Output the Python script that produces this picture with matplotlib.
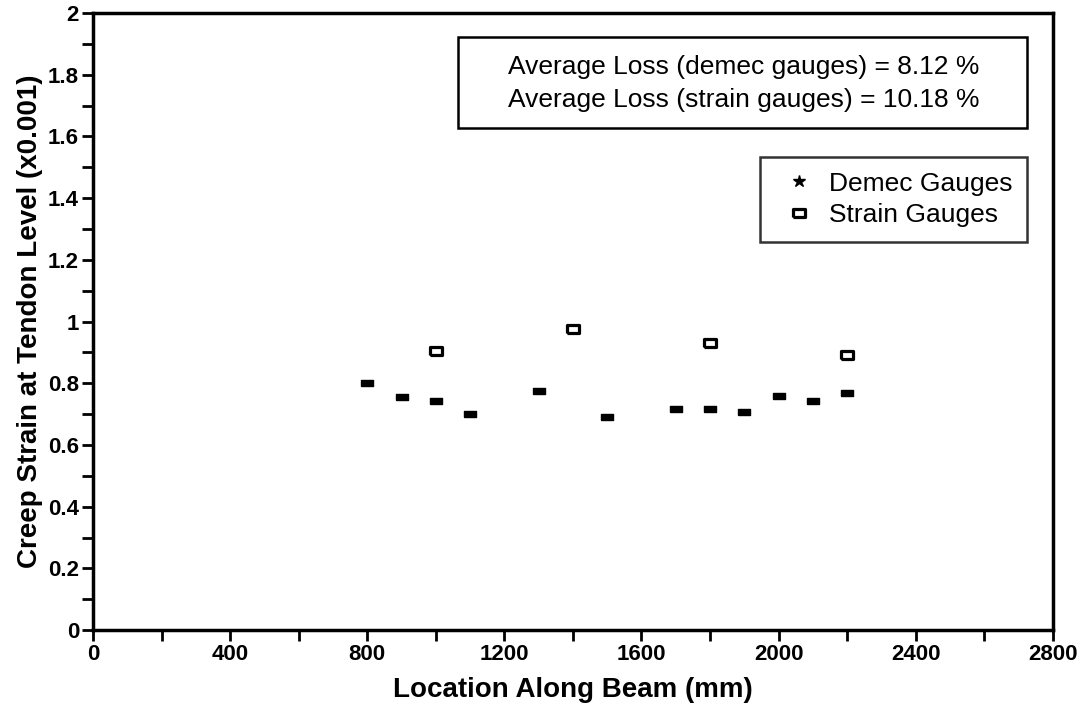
import matplotlib
matplotlib.use("Agg")
import matplotlib.pyplot as plt
from matplotlib.lines import Line2D
from matplotlib.patches import Rectangle
from matplotlib.ticker import MultipleLocator

plt.rcParams['font.family'] = ['Liberation Sans', 'DejaVu Sans']

# data
demec_x = [800, 900, 1000, 1100, 1300, 1500, 1700, 1800, 1900, 2000, 2100, 2200]
demec_y = [0.80, 0.757, 0.742, 0.70, 0.775, 0.69, 0.715, 0.715, 0.707, 0.758, 0.742, 0.768]
strain_x = [1000, 1400, 1800, 2200]
strain_y = [0.905, 0.977, 0.932, 0.89]

avg_demec = 8.12
avg_strain = 10.18

fig = plt.figure(figsize=(10.81, 7.04), dpi=100)
ax = fig.add_axes([0.086, 0.105, 0.888, 0.8765])

rect = [(-1, -0.6), (1, -0.6), (1, 0.6), (-1, 0.6), (-1, -0.6)]
ax.plot(demec_x, demec_y, linestyle='none', marker=rect, markersize=8,
        color='black')
ax.plot(strain_x, strain_y, linestyle='none', marker=rect, markersize=9,
        markerfacecolor='white', markeredgecolor='black', markeredgewidth=2.3)

ax.set_xlim(0, 2800)
ax.set_ylim(0, 2)
ax.xaxis.set_major_locator(MultipleLocator(400))
ax.xaxis.set_minor_locator(MultipleLocator(200))
ax.yaxis.set_minor_locator(MultipleLocator(0.1))
ax.set_yticks([0, 0.2, 0.4, 0.6, 0.8, 1, 1.2, 1.4, 1.6, 1.8, 2])
ax.set_yticklabels(['0', '0.2', '0.4', '0.6', '0.8', '1', '1.2', '1.4', '1.6', '1.8', '2'])

ax.tick_params(which='both', direction='out', length=8, width=2, top=False, right=False)
ax.tick_params(which='major', labelsize=16, pad=2)
for lab in ax.get_xticklabels() + ax.get_yticklabels():
    lab.set_fontweight('bold')
for s in ax.spines.values():
    s.set_linewidth(2.5)

ax.set_xlabel('Location Along Beam (mm)', fontsize=20, fontweight='bold', labelpad=9)
ax.set_ylabel('Creep Strain at Tendon Level (x0.001)', fontsize=20, fontweight='bold', labelpad=4)

# annotation box with the average losses
ax.add_patch(Rectangle((0.380, 0.8136), 0.593, 0.1475, transform=ax.transAxes,
                       facecolor='white', edgecolor='black', linewidth=1.8, zorder=3))
ax.text(0.678, 0.9130, f'Average Loss (demec gauges) = {avg_demec:.2f} %',
        transform=ax.transAxes, ha='center', va='center', fontsize=19, zorder=4)
ax.text(0.678, 0.859, f'Average Loss (strain gauges) = {avg_strain:.2f} %',
        transform=ax.transAxes, ha='center', va='center', fontsize=19, zorder=4)

handles = [
    Line2D([], [], linestyle='none', marker='*', markersize=9, color='black'),
    Line2D([], [], linestyle='none', marker=rect, markersize=9,
           markerfacecolor='white', markeredgecolor='black', markeredgewidth=2.3),
]
leg = ax.legend(handles, ['Demec Gauges', 'Strain Gauges'], loc='upper right',
                bbox_to_anchor=(0.973, 0.7666), fontsize=19, frameon=True, fancybox=False,
                handlelength=1.85, handletextpad=0.2, borderpad=0.55, labelspacing=0.3,
                borderaxespad=0)
leg.get_frame().set_edgecolor('black')
leg.get_frame().set_linewidth(1.8)

fig.savefig('out.png', dpi=100)
